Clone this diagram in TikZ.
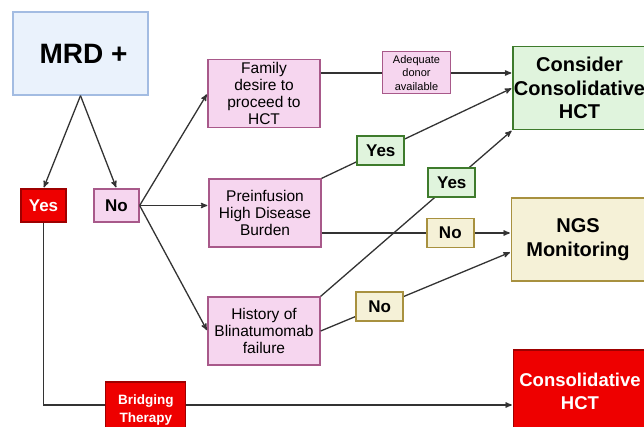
\documentclass[tikz,border=0pt]{standalone}
\usepackage{fontspec}
\setmainfont{Liberation Sans}
\usetikzlibrary{arrows}

\definecolor{linegray}{HTML}{333333}
\definecolor{mrdfill}{HTML}{EAF2FC}
\definecolor{mrdline}{HTML}{A3BCE2}
\definecolor{pinkfill}{HTML}{F6D6EF}
\definecolor{pinkline}{HTML}{A8598A}
\definecolor{redfill}{HTML}{EE0000}
\definecolor{redline}{HTML}{9E0000}
\definecolor{greenfill}{HTML}{E0F4DD}
\definecolor{greenline}{HTML}{3E7B2C}
\definecolor{tanfill}{HTML}{F5F1D7}
\definecolor{tanline}{HTML}{A8913F}

\begin{document}
\begin{tikzpicture}[->,>=stealth',shorten >=1pt,x=1pt,y=-1pt,
                    every edge/.style={draw=linegray,line width=1.3pt},
                    box/.style={draw,line width=1.3pt,inner sep=0pt,align=center},
                    mrdbox/.style={box,draw=mrdline,fill=mrdfill,minimum width=135pt,minimum height=83pt,
                                   font=\fontsize{28}{32}\selectfont\bfseries},
                    answer/.style={box,minimum width=45pt,minimum height=33pt,font=\fontsize{17}{20}\selectfont\bfseries},
                    stepbox/.style={box,draw=pinkline,fill=pinkfill,minimum width=112pt,minimum height=68pt,
                                    font=\fontsize{15.5}{17.3}\selectfont},
                    donorbox/.style={box,draw=pinkline,fill=pinkfill,line width=1pt,minimum width=68pt,minimum height=42pt,
                                     font=\fontsize{11}{13.3}\selectfont},
                    yesbox/.style={box,draw=greenline,fill=greenfill,line width=2pt,minimum width=47pt,minimum height=29pt,
                                   font=\fontsize{17}{20}\selectfont\bfseries},
                    nobox/.style={box,draw=tanline,fill=tanfill,line width=1.8pt,minimum width=47pt,minimum height=29pt,
                                  font=\fontsize{17}{20}\selectfont\bfseries},
                    bridgebox/.style={box,draw=redline,fill=redfill,text=white,minimum width=80pt,minimum height=56pt,
                                      font=\fontsize{13.5}{17.5}\selectfont\bfseries},
                    outbox/.style={box,minimum width=133pt,minimum height=83pt,font=\fontsize{20}{23.5}\selectfont\bfseries}]

  \clip (0,0) rectangle (644,427);

  \node[mrdbox] (mrd) at (80.5,53.5) {\hspace*{6pt}MRD +};
  \node[answer,draw=redline,fill=redfill,text=white] (yes) at (43.5,205.5) {Yes};
  \node[answer,draw=pinkline,fill=pinkfill] (no) at (116.5,205.5) {No};

  \node[stepbox] (family)  at (264,93.5) {Family\\desire to\\proceed to\\HCT};
  \node[stepbox] (preinf)  at (265,213)  {Preinfusion\\High Disease\\Burden};
  \node[stepbox] (history) at (264,331)  {History of\\Blinatumomab\\failure};

  \node[outbox,draw=greenline,fill=greenfill] (consider) at (579.5,88) {Consider\\Consolidative\\HCT};
  \node[outbox,draw=tanline,fill=tanfill] (ngs) at (578,239.5) {NGS\\Monitoring};
  \node[outbox,draw=redline,fill=redfill,text=white,font=\fontsize{18.5}{23}\selectfont\bfseries] (hct) at (580,391.5) {Consolidative\\HCT};

  \path (mrd.south) edge (yes.north)
                    edge (no.north)
        (no.east) edge (family.west)
                  edge (no.east -| preinf.west)
                  edge (history.west)
        ([yshift=20.5pt]family.east) edge node[donorbox] {Adequate\\donor\\available} ([yshift=15pt]consider.west)
        (preinf.north east) edge node[yesbox,pos=.31] {Yes} (consider.west)
        ([yshift=-20pt]preinf.east) edge node[nobox,pos=.68] {No} ([yshift=6.5pt]ngs.west)
        (history.north east) edge node[yesbox,pos=.684] {Yes} (consider.south west)
        (history.east) edge node[nobox,pos=.31] {No} ([yshift=-12.5pt]ngs.west)
        (yes.south) edge[to path={|- (\tikztotarget) \tikztonodes}]
                    node[bridgebox,pos=.609,yshift=-5pt] {Bridging\\Therapy} ([yshift=-13.5pt]hct.west);

\end{tikzpicture}
\end{document}
